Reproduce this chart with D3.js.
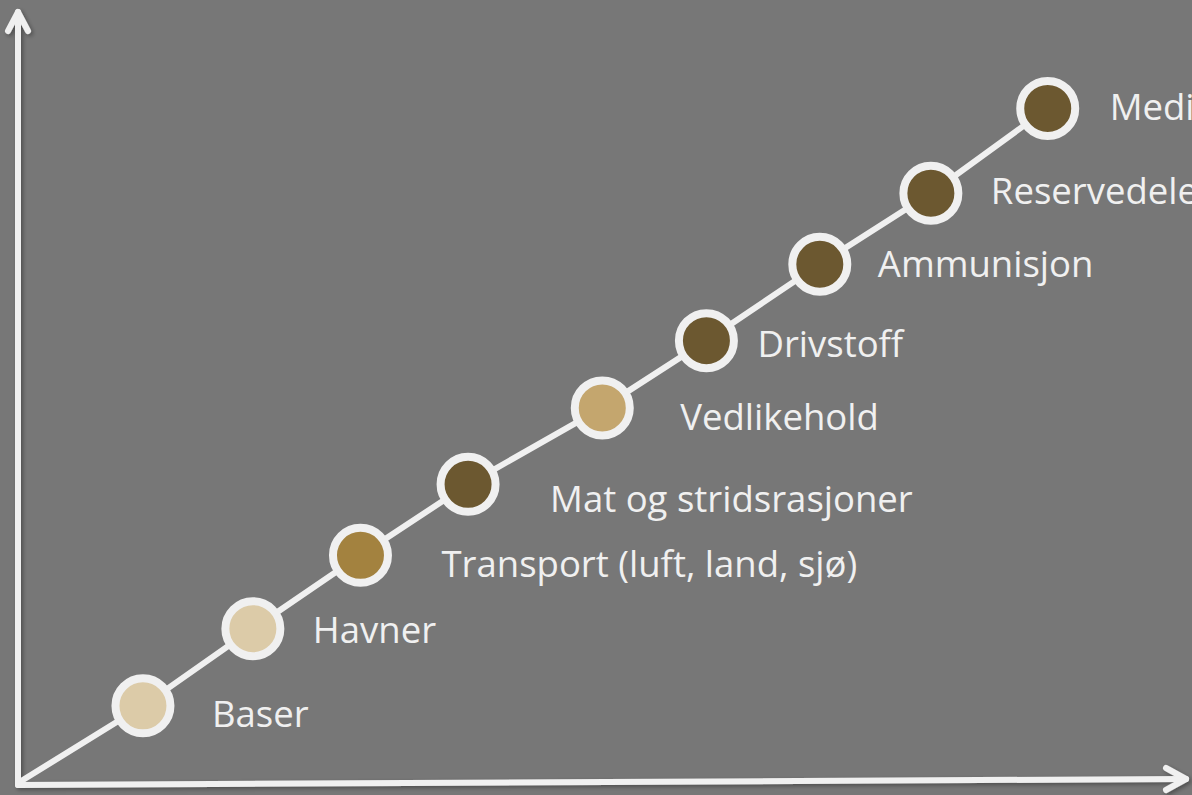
<!DOCTYPE html>
<html>
<head>
<meta charset="utf-8">
<script src="https://cdn.jsdelivr.net/npm/d3@7"></script>
<style>
    html, body { margin: 0; padding: 0; background: #777777; }
    svg { display: block; }
</style>
</head>
<body>
<div id="chart"></div>
<script>
// Chart data
//
var categories = [
    'Baser',
    'Havner',
    'Transport (luft, land, sjø)',
    'Mat og stridsrasjoner',
    'Vedlikehold',
    'Drivstoff',
    'Ammunisjon',
    'Reservedeler',
    'Medisinsk utstyr'
];
var xValues = [10.8, 20.3, 29.6, 38.9, 50.5, 59.5, 69.3, 78.9, 89.0];
var yValues = [10.1, 20.2, 29.8, 39.1, 49.1, 57.9, 67.9, 77.2, 88.3];
var levels  = ['light', 'light', 'mid', 'dark', 'tan', 'dark', 'dark', 'dark', 'dark'];

// Layout
//
var svg_width   = 1192;
var svg_height  = 795;
var x_box_min   = 18;
var x_box_max   = 1175;
var y_box_min   = 19;
var y_box_max   = 783;

var fillColors  = { light: '#dccba8', tan: '#c4a66e', mid: '#a3823f', dark: '#6c5830' };
var labelDx     = [69, 60, 81, 82, 78, 51, 58, 60, 62];
var labelDy     = [21, 14, 22, 28, 22, 16, 13, 11, 12];
var lineColor   = '#f0f0f0';

var svg = d3.select('#chart').append('svg')
    .attr('width', svg_width)
    .attr('height', svg_height)
    .attr('viewBox', `0 0 ${svg_width} ${svg_height}`);

svg.append('rect')
    .attr('width', svg_width)
    .attr('height', svg_height)
    .attr('fill', '#777777');

// Shadow definition
//
var defs = svg.append('defs');

var shadow = defs.append('filter')
    .attr('id', 'shadow')
    .attr('x', '-20%').attr('y', '-20%')
    .attr('width', '140%').attr('height', '140%');
shadow.append('feDropShadow')
    .attr('dx', 2).attr('dy', 2)
    .attr('stdDeviation', 2)
    .attr('flood-color', '#000')
    .attr('flood-opacity', 0.35);

var xScale = d3.scaleLinear().domain([0, 100]).range([x_box_min, x_box_max]);
var yScale = d3.scaleLinear().domain([0, 100]).range([y_box_max, y_box_min]);

var points = categories.map((c, i) => ({
    name: c,
    x: xValues[i],
    y: yValues[i],
    fill: fillColors[levels[i]],
    dx: labelDx[i],
    dy: labelDy[i]
}));

// Axes with open arrow heads
//
var axes = svg.append('g')
    .attr('class', 'axes')
    .attr('filter', 'url(#shadow)')
    .attr('stroke', lineColor)
    .attr('stroke-width', 6)
    .attr('stroke-linecap', 'round')
    .attr('stroke-linejoin', 'round')
    .attr('fill', 'none');

// y axis
axes.append('line')
    .attr('x1', xScale(0)).attr('y1', yScale(0) + 2)
    .attr('x2', xScale(0)).attr('y2', 12);
axes.append('path')
    .attr('d', d3.line()([[xScale(0) - 10, 31], [xScale(0), 12], [xScale(0) + 10, 31]]));

// x axis
var xEnd  = 1186;
var yEnd  = 779;
axes.append('line')
    .attr('x1', xScale(0)).attr('y1', yScale(0) + 2)
    .attr('x2', xEnd).attr('y2', yEnd);
axes.append('path')
    .attr('d', d3.line()([[xEnd - 20, yEnd - 11], [xEnd, yEnd], [xEnd - 20, yEnd + 11]]));

// Connecting line from origin
//
var line = d3.line()
    .x(d => xScale(d.x))
    .y(d => yScale(d.y));

svg.append('path')
    .datum([{ x: 0, y: 0 }].concat(points))
    .attr('d', line)
    .attr('fill', 'none')
    .attr('stroke', lineColor)
    .attr('stroke-width', 6);

// Markers
//
svg.append('g')
    .attr('class', 'markers')
    .selectAll('circle')
    .data(points)
    .join('circle')
    .attr('cx', d => xScale(d.x))
    .attr('cy', d => yScale(d.y))
    .attr('r', 27.5)
    .attr('fill', d => d.fill)
    .attr('stroke', lineColor)
    .attr('stroke-width', 8);

// Labels (last one runs off the right edge, as in the source slide)
//
svg.append('g')
    .attr('class', 'labels')
    .selectAll('text')
    .data(points)
    .join('text')
    .attr('x', d => xScale(d.x) + d.dx)
    .attr('y', d => yScale(d.y) + d.dy)
    .style('font-family', '"Open Sans", sans-serif')
    .style('font-size', '36.5px')
    .style('fill', '#f0f0f0')
    .text(d => d.name);
</script>
</body>
</html>
